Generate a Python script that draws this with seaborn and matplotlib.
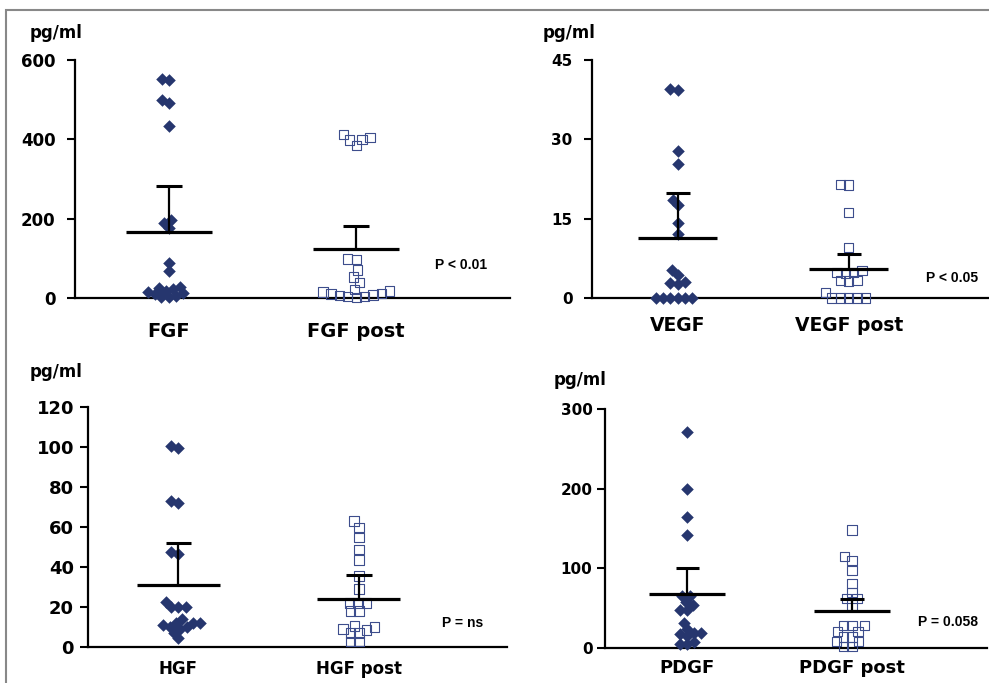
import matplotlib.pyplot as plt
import seaborn as sns
from matplotlib.patches import Rectangle
from matplotlib.markers import MarkerStyle
from matplotlib.transforms import Affine2D

# values (pg/ml)
fgf_labels = ["FGF", "FGF post"]
fgf_pre = [551, 549, 500, 492, 433, 196, 189, 176, 88, 68, 28, 25, 22, 18, 15, 12, 10, 6, 3, 2]
fgf_post = [412, 405, 400, 398, 385, 98, 97, 71, 53, 39, 22, 18, 15, 12, 10, 8, 6, 4, 3, 2]
fgf_mean = [167, 123]
fgf_top = [282, 181]

vegf_labels = ["VEGF", "VEGF post"]
vegf_pre = [39.6, 39.4, 27.8, 25.3, 18.5, 17.5, 14.2, 12.1, 5.2, 4.3, 3.0, 2.8, 2.6, 0, 0, 0, 0, 0, 0]
vegf_post = [21.5, 21.4, 16.2, 9.5, 5.2, 4.8, 4.8, 4.6, 3.3, 3.3, 3.2, 1.0, 0, 0, 0, 0, 0]
vegf_mean = [11.4, 5.5]
vegf_top = [19.8, 8.4]

hgf_labels = ["HGF", "HGF post"]
hgf_pre = [100.5, 99.3, 73.2, 72.2, 47.5, 46.5, 22.5, 20, 20, 20, 14, 12, 12, 12, 11, 10, 10, 9, 7, 4.3]
hgf_post = [63, 59.7, 54.8, 48.8, 43.5, 35.5, 29, 22, 22, 22, 18, 18, 10.5, 10, 9, 8.5, 7, 7, 2.7, 2.7]
hgf_mean = [30.8, 24]
hgf_top = [51.8, 36]

pdgf_labels = ["PDGF", "PDGF post"]
pdgf_pre = [271, 199, 165, 142, 65, 65, 58, 54, 48, 48, 32, 24, 19, 19, 17, 15, 7.5, 5, 5]
pdgf_post = [148, 115, 110, 97, 81, 70, 62, 62, 54, 28, 28, 28, 21, 21, 14, 14, 8, 8, 2, 2]
pdgf_mean = [67.5, 47]
pdgf_top = [101, 61.6]

NAVY = "#26366e"
SQ_EDGE = "#3d4d8c"
W, H = 989, 683

sns.set_theme(style="ticks")
plt.rcParams['font.family'] = ['DejaVu Sans']

fig = plt.figure(figsize=(W / 100, H / 100), dpi=100)
fig.patch.set_facecolor("white")

# markers drawn a bit larger than the size the swarm packs them by,
# so they overlap like in the original figure
DIAMOND = MarkerStyle("D", transform=Affine2D().scale(1.28))
SQUARE = MarkerStyle("s", transform=Affine2D().scale(1.35))


def px_axes(left, top, right, bottom):
    return fig.add_axes([left / W, 1 - bottom / H, (right - left) / W, (bottom - top) / H])


def px_text(x, y, s, size, family=None):
    kw = {"family": family} if family else {}
    fig.text(x / W, 1 - y / H, s, ha="center", va="center", fontsize=size,
             fontweight="bold", color="black", **kw)


def draw_panel(ax, labels, pre, post, means, tops, yticks, tick_fs, x_fs, x_pad, y_pad):
    sns.swarmplot(x=[labels[0]] * len(pre), y=pre, order=labels, ax=ax,
                  marker=DIAMOND, size=5, color=NAVY, linewidth=0, clip_on=False)
    sns.swarmplot(x=[labels[1]] * len(post), y=post, order=labels, ax=ax,
                  marker=SQUARE, size=5, color=SQ_EDGE, facecolor="none",
                  edgecolor=SQ_EDGE, linewidth=0.8, clip_on=False)
    # empty collections (the unused category) would be drawn at the figure corner
    for coll in list(ax.collections):
        if len(coll.get_offsets()) == 0:
            coll.remove()

    # mean line with one-sided error bar
    for i in range(2):
        ax.hlines(means[i], i - 0.23, i + 0.23, color="black", lw=2.3, zorder=5)
        ax.vlines(i, means[i], tops[i], color="black", lw=1.6, zorder=5)
        ax.hlines(tops[i], i - 0.07, i + 0.07, color="black", lw=2.2, zorder=5)

    ax.set_xlim(-0.5, 1.82)
    ax.set_ylim(0, yticks[-1])
    ax.set_yticks(yticks)
    ax.set_yticklabels([str(t) for t in yticks], fontweight="bold")
    ax.set_xticks([0, 1])
    ax.set_xticklabels(labels, fontweight="bold")
    ax.set_xlabel("")
    ax.set_ylabel("")
    sns.despine(ax=ax)
    for side in ["left", "bottom"]:
        ax.spines[side].set_linewidth(1.6)
        ax.spines[side].set_color("black")
    ax.tick_params(axis="x", length=0, pad=x_pad, labelsize=x_fs, colors="black")
    ax.tick_params(axis="y", length=6, width=1.5, direction="out", pad=y_pad,
                   labelsize=tick_fs, colors="black")
    ax.set_facecolor("none")


ax1 = px_axes(75, 60, 510, 298)
draw_panel(ax1, fgf_labels, fgf_pre, fgf_post, fgf_mean, fgf_top,
           [0, 200, 400, 600], 12, 14, 17, 8)
ax2 = px_axes(592, 60, 989, 298)
draw_panel(ax2, vegf_labels, vegf_pre, vegf_post, vegf_mean, vegf_top,
           [0, 15, 30, 45], 11, 13.5, 13, 8)
ax3 = px_axes(88, 407, 507, 647)
draw_panel(ax3, hgf_labels, hgf_pre, hgf_post, hgf_mean, hgf_top,
           [0, 20, 40, 60, 80, 100, 120], 13, 12, 9.5, 4)
ax4 = px_axes(605, 409, 987, 648)
draw_panel(ax4, pdgf_labels, pdgf_pre, pdgf_post, pdgf_mean, pdgf_top,
           [0, 100, 200, 300], 11, 13, 8, 3)

# unit labels
px_text(56, 33, "pg/ml", 12)
px_text(569, 33, "pg/ml", 12)
px_text(56, 372, "pg/ml", 12)
px_text(580, 380, "pg/ml", 12)

# p-values
px_text(461, 265, "P < 0.01", 10, "Liberation Sans")
px_text(952, 278, "P < 0.05", 10, "Liberation Sans")
px_text(463, 623, "P = ns", 10, "Liberation Sans")
px_text(948, 622, "P = 0.058", 10, "Liberation Sans")

# grey frame around the figure
fig.patches.append(Rectangle((6 / W, -0.05), 1.2, 1 - 10 / H + 0.05,
                             transform=fig.transFigure, fill=False,
                             edgecolor="#888888", lw=1.5))

fig.savefig("out.png", dpi=100)
